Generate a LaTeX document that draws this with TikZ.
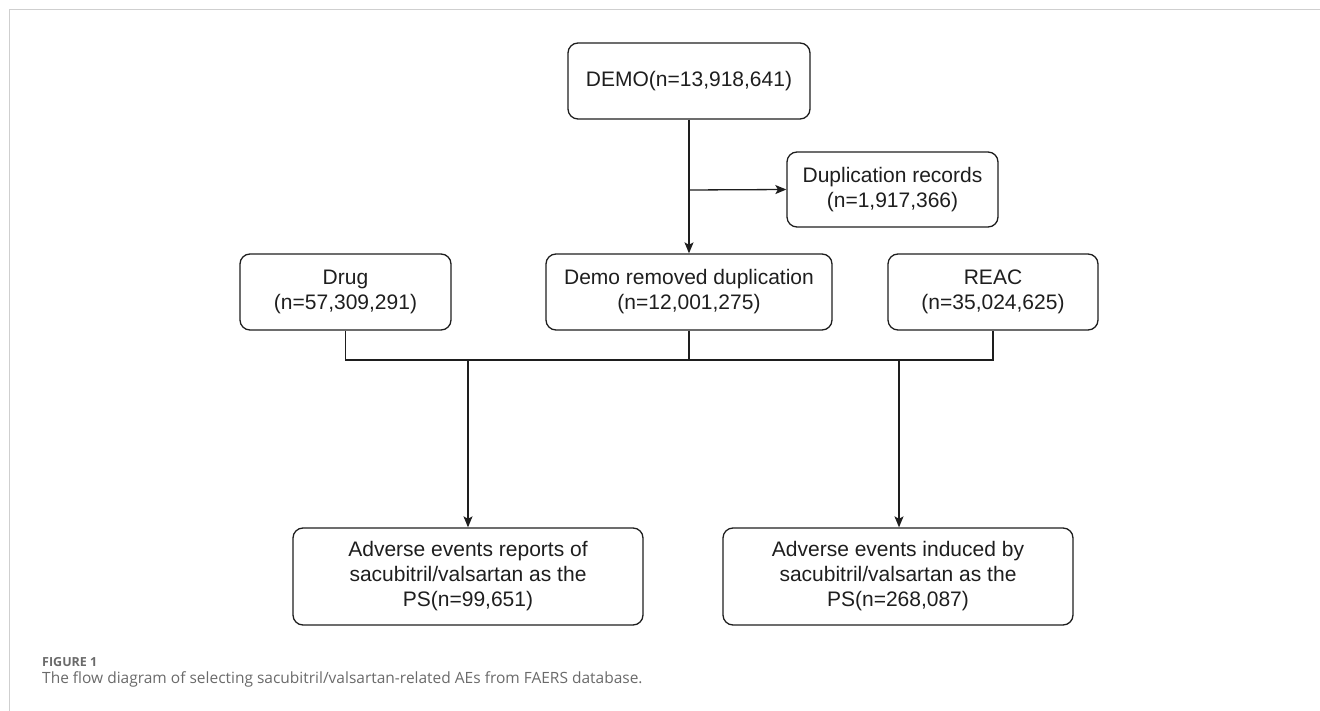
\documentclass[tikz,border=0pt]{standalone}
\usepackage{fontspec}
\setmainfont{Liberation Sans}
\newfontfamily\capfont{Open Sans}
\usetikzlibrary{arrows.meta}
\definecolor{framegray}{HTML}{CFCFCF}
\definecolor{ink}{HTML}{1E1E1E}
\definecolor{capgray}{HTML}{6A6A6A}
\tikzset{
  box/.style={draw=ink, line width=1.3pt, rounded corners=10pt, align=center,
    text=ink, font=\fontsize{21}{25}\selectfont, inner sep=0pt},
  conn/.style={draw=ink, line width=1.3pt},
  arr/.style={conn, -{Stealth[length=11pt,width=9pt,inset=2.5pt]}},
}
\begin{document}
\begin{tikzpicture}[x=1pt,y=-1pt]
\useasboundingbox (0,0) rectangle (1320,711);
% frame
\draw[framegray, line width=1.5pt] (9.5,711) -- (9.5,9.5) -- (1320,9.5);
% nodes
\node[box, minimum width=242pt, minimum height=76pt] (demo) at (689,81) {DEMO(n=13,918,641)};
\node[box, minimum width=211pt, minimum height=75pt] (dup) at (892.5,189.5) {Duplication records\\(n=1,917,366)};
\node[box, minimum width=211pt, minimum height=76pt] (drug) at (345.5,292) {Drug\\(n=57,309,291)};
\node[box, minimum width=286pt, minimum height=76pt] (demorem) at (689,292) {Demo removed duplication\\(n=12,001,275)};
\node[box, minimum width=210pt, minimum height=76pt] (reac) at (993,292) {REAC\\(n=35,024,625)};
\node[box, minimum width=350pt, minimum height=97pt] (ae1) at (468,576.5) {Adverse events reports of\\sacubitril/valsartan as the\\PS(n=99,651)};
\node[box, minimum width=350pt, minimum height=97pt] (ae2) at (898,576.5) {Adverse events induced by\\sacubitril/valsartan as the\\PS(n=268,087)};
% coordinates
\coordinate (br) at (689,190);
\coordinate (hl) at (345.5,360);
\coordinate (hr) at (993,360);
\coordinate (hm) at (689,360);
\coordinate (j1) at (468,360);
\coordinate (j2) at (899,360);
% connectors
\draw[arr] (demo.south) -- (demorem.north);
\draw[arr] (br) -- (dup.west);
\draw[conn] (drug.south) -- (hl) -- (hr) -- (reac.south);
\draw[conn] (demorem.south) -- (hm);
\draw[arr] (j1) -- (ae1.north -| j1);
\draw[arr] (j2) -- (ae2.north -| j2);
% caption
\node[anchor=base west, inner sep=0pt, text=capgray, font=\capfont\bfseries\fontsize{12.5}{15}\selectfont] (figlab) at (42,666) {FIGURE 1};
\node[anchor=base west, inner sep=0pt, text=capgray, font=\capfont\fontsize{15.5}{18}\selectfont] (figcap) at (42,683) {The flow diagram of selecting sacubitril/valsartan-related AEs from FAERS database.};
\end{tikzpicture}
\end{document}
